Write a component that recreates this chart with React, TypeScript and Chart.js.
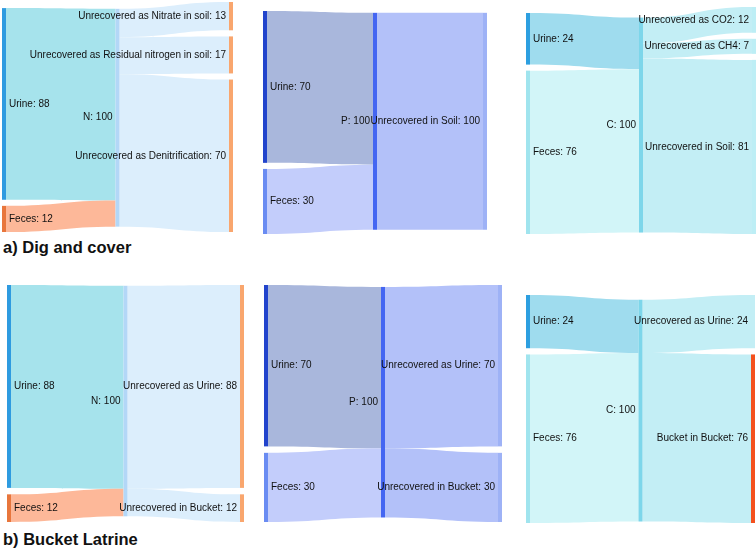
import React, { useEffect, useRef } from "react";
import { Chart, registerables } from "chart.js";

Chart.register(...registerables);

// ---------- DATA ----------
// a) Dig and cover — Nitrogen
const digNLabels = ["Urine", "Feces", "N", "Unrecovered as Nitrate in soil", "Unrecovered as Residual nitrogen in soil", "Unrecovered as Denitrification"];
const digNColumns = [0, 0, 1, 2, 2, 2];
const digNSources = [0, 1, 2, 2, 2];
const digNTargets = [2, 2, 3, 4, 5];
const digNValues = [88, 12, 13, 17, 70];

// a) Dig and cover — Phosphorus
const digPLabels = ["Urine", "Feces", "P", "Unrecovered in Soil"];
const digPColumns = [0, 0, 1, 2];
const digPSources = [0, 1, 2];
const digPTargets = [2, 2, 3];
const digPValues = [70, 30, 100];

// a) Dig and cover — Carbon
const digCLabels = ["Urine", "Feces", "C", "Unrecovered as CO2", "Unrecovered as CH4", "Unrecovered in Soil"];
const digCColumns = [0, 0, 1, 2, 2, 2];
const digCSources = [0, 1, 2, 2, 2];
const digCTargets = [2, 2, 3, 4, 5];
const digCValues = [24, 76, 12, 7, 81];

// b) Bucket Latrine — Nitrogen
const bucketNLabels = ["Urine", "Feces", "N", "Unrecovered as Urine", "Unrecovered in Bucket"];
const bucketNColumns = [0, 0, 1, 2, 2];
const bucketNSources = [0, 1, 2, 2];
const bucketNTargets = [2, 2, 3, 4];
const bucketNValues = [88, 12, 88, 12];

// b) Bucket Latrine — Phosphorus
const bucketPLabels = ["Urine", "Feces", "P", "Unrecovered as Urine", "Unrecovered in Bucket"];
const bucketPColumns = [0, 0, 1, 2, 2];
const bucketPSources = [0, 1, 2, 2];
const bucketPTargets = [2, 2, 3, 4];
const bucketPValues = [70, 30, 70, 30];

// b) Bucket Latrine — Carbon
const bucketCLabels = ["Urine", "Feces", "C", "Unrecovered as Urine", "Bucket in Bucket"];
const bucketCColumns = [0, 0, 1, 2, 2];
const bucketCSources = [0, 1, 2, 2];
const bucketCTargets = [2, 2, 3, 4];
const bucketCValues = [24, 76, 24, 76];

const sectionTitles = ["a) Dig and cover", "b) Bucket Latrine"];

// ---------- STYLES ----------
const N_NODE = ["#2e9be0", "#e8763c", "#b3d7f7", "#f9a66e", "#f9a66e", "#f9a66e"];
const N_LINK = ["#a6e3ec", "#fdb899", "#dceefc", "#dceefc", "#dceefc"];
const P_NODE = ["#2244cc", "#6a8cf2", "#4466f2", "#9eb2f6", "#9eb2f6"];
const P_LINK = ["#a9b7dc", "#c3cdfb", "#b3c1f9", "#b3c1f9"];
const C_NODE_DIG = ["#2d9fe0", "#a0e4ee", "#7dd6ea", "#bdeef5", "#bdeef5", "#bdeef5"];
const C_NODE_BUCKET = ["#2d9fe0", "#a0e4ee", "#7dd6ea", "#c3eef5", "#f4511e"];
const C_LINK = ["#9fdcee", "#d2f5f8", "#c3eef5", "#c3eef5", "#c3eef5"];

const NODE_WIDTH = 4;
const NODE_GAP = 2.8; // in value units
const LABEL_PAD = 3;
const FONT = "10px 'Liberation Sans', Arial, Helvetica, sans-serif";

type PanelDef = {
  labels: string[];
  columns: number[];
  sources: number[];
  targets: number[];
  values: number[];
  nodeColors: string[];
  linkColors: string[];
  rect: { left: number; top: number; width: number; height: number };
};

const panels: PanelDef[] = [
  { labels: digNLabels, columns: digNColumns, sources: digNSources, targets: digNTargets, values: digNValues, nodeColors: N_NODE, linkColors: N_LINK, rect: { left: 2, top: 2, width: 231, height: 230 } },
  { labels: digPLabels, columns: digPColumns, sources: digPSources, targets: digPTargets, values: digPValues, nodeColors: P_NODE, linkColors: P_LINK, rect: { left: 263, top: 11, width: 224, height: 223 } },
  { labels: digCLabels, columns: digCColumns, sources: digCSources, targets: digCTargets, values: digCValues, nodeColors: C_NODE_DIG, linkColors: C_LINK, rect: { left: 526, top: 7, width: 230, height: 227 } },
  { labels: bucketNLabels, columns: bucketNColumns, sources: bucketNSources, targets: bucketNTargets, values: bucketNValues, nodeColors: N_NODE, linkColors: N_LINK, rect: { left: 7, top: 285, width: 237, height: 237 } },
  { labels: bucketPLabels, columns: bucketPColumns, sources: bucketPSources, targets: bucketPTargets, values: bucketPValues, nodeColors: P_NODE, linkColors: P_LINK, rect: { left: 264, top: 285, width: 238, height: 237 } },
  { labels: bucketCLabels, columns: bucketCColumns, sources: bucketCSources, targets: bucketCTargets, values: bucketCValues, nodeColors: C_NODE_BUCKET, linkColors: C_LINK, rect: { left: 526, top: 295, width: 229, height: 228 } },
];

type Layout = {
  ymax: number;
  ncol: number;
  nodeVal: number[];
  y0: number[];
  y1: number[];
  links: { s: number; t: number; sy0: number; sy1: number; ty0: number; ty1: number }[];
};

function layoutSankey(p: PanelDef): Layout {
  const n = p.labels.length;
  const inSum = new Array(n).fill(0);
  const outSum = new Array(n).fill(0);
  p.values.forEach((v, i) => {
    outSum[p.sources[i]] += v;
    inSum[p.targets[i]] += v;
  });
  const nodeVal = p.labels.map((_, i) => Math.max(inSum[i], outSum[i]));
  const ncol = Math.max(...p.columns) + 1;
  const colNodes: number[][] = [];
  for (let c = 0; c < ncol; c++) colNodes.push(p.labels.map((_, i) => i).filter((i) => p.columns[i] === c));
  const colTotal = colNodes.map((list) => list.reduce((a, i) => a + nodeVal[i], 0) + (list.length - 1) * NODE_GAP);
  const ymax = Math.max(...colTotal);
  const y0 = new Array(n).fill(0);
  const y1 = new Array(n).fill(0);
  colNodes.forEach((list, c) => {
    // stack column from 0
    let start = 0;
    list.forEach((i) => {
      y0[i] = start;
      y1[i] = start + nodeVal[i];
      start += nodeVal[i] + NODE_GAP;
    });
    let shift: number;
    if (c === 0) {
      shift = ymax - colTotal[c];
    } else {
      // move the column so its nodes sit at the weighted centre of their sources
      let wsum = 0;
      let dsum = 0;
      p.values.forEach((v, k) => {
        const t = p.targets[k];
        if (p.columns[t] !== c) return;
        const s = p.sources[k];
        const sc = (y0[s] + y1[s]) / 2;
        const tc = (y0[t] + y1[t]) / 2;
        wsum += v;
        dsum += v * (sc - tc);
      });
      shift = wsum > 0 ? dsum / wsum : (ymax - colTotal[c]) / 2;
      shift = Math.max(0, Math.min(ymax - colTotal[c], shift));
    }
    list.forEach((i) => {
      y0[i] += shift;
      y1[i] += shift;
    });
  });
  const outCursor = y0.slice();
  const inCursor = y0.slice();
  const links = p.values.map((v, i) => {
    const s = p.sources[i];
    const t = p.targets[i];
    const l = { s, t, sy0: outCursor[s], sy1: outCursor[s] + v, ty0: inCursor[t], ty1: inCursor[t] + v };
    outCursor[s] += v;
    inCursor[t] += v;
    return l;
  });
  return { ymax, ncol, nodeVal, y0, y1, links };
}

const sankeyPlugin = {
  id: "sankeyDraw",
  afterDatasetsDraw(chart: any, _args: any, opts: any) {
    const p: PanelDef = opts.panel;
    const L: Layout = opts.layout;
    if (!p || !L) return;
    const xs = chart.scales.x;
    const ys = chart.scales.y;
    const ctx: CanvasRenderingContext2D = chart.ctx;
    const nodeX = (i: number) => xs.getPixelForValue(p.columns[i] / (L.ncol - 1));
    ctx.save();
    // links
    L.links.forEach((lk, i) => {
      const sx = nodeX(lk.s) + NODE_WIDTH;
      const tx = nodeX(lk.t);
      const mx = (sx + tx) / 2;
      const a0 = ys.getPixelForValue(lk.sy0);
      const a1 = ys.getPixelForValue(lk.sy1);
      const b0 = ys.getPixelForValue(lk.ty0);
      const b1 = ys.getPixelForValue(lk.ty1);
      ctx.beginPath();
      ctx.moveTo(sx, a0);
      ctx.bezierCurveTo(mx, a0, mx, b0, tx, b0);
      ctx.lineTo(tx, b1);
      ctx.bezierCurveTo(mx, b1, mx, a1, sx, a1);
      ctx.closePath();
      ctx.fillStyle = p.linkColors[i];
      ctx.fill();
    });
    // nodes
    p.labels.forEach((_, i) => {
      const x = nodeX(i);
      const top = ys.getPixelForValue(L.y0[i]);
      const bot = ys.getPixelForValue(L.y1[i]);
      ctx.fillStyle = p.nodeColors[i];
      ctx.fillRect(x, top, NODE_WIDTH, bot - top);
    });
    // labels
    ctx.font = FONT;
    ctx.fillStyle = "#111";
    ctx.textBaseline = "middle";
    p.labels.forEach((lab, i) => {
      const x = nodeX(i);
      const cy = (ys.getPixelForValue(L.y0[i]) + ys.getPixelForValue(L.y1[i])) / 2;
      const text = `${lab}: ${L.nodeVal[i]}`;
      if (p.columns[i] / (L.ncol - 1) < 0.5) {
        ctx.textAlign = "left";
        ctx.fillText(text, x + NODE_WIDTH + LABEL_PAD, cy);
      } else {
        ctx.textAlign = "right";
        ctx.fillText(text, x - LABEL_PAD, cy);
      }
    });
    ctx.restore();
  },
};

function SankeyPanel({ panel }: { panel: PanelDef }) {
  const ref = useRef<HTMLCanvasElement | null>(null);
  useEffect(() => {
    if (!ref.current) return;
    const layout = layoutSankey(panel);
    const chart = new Chart(ref.current, {
      type: "scatter",
      data: { datasets: [] },
      options: {
        animation: false,
        responsive: true,
        maintainAspectRatio: false,
        events: [],
        layout: { padding: { left: 0, top: 0, bottom: 0, right: NODE_WIDTH } },
        scales: {
          x: { type: "linear", min: 0, max: 1, display: false },
          y: { type: "linear", min: 0, max: layout.ymax, reverse: true, display: false },
        },
        plugins: {
          legend: { display: false },
          tooltip: { enabled: false },
          sankeyDraw: { panel, layout },
        } as any,
      },
      plugins: [sankeyPlugin as any],
    });
    return () => chart.destroy();
  }, [panel]);
  const r = panel.rect;
  return (
    <div style={{ position: "absolute", left: r.left, top: r.top, width: r.width, height: r.height }}>
      <canvas ref={ref} />
    </div>
  );
}

export default function App() {
  const titleStyle: React.CSSProperties = {
    position: "absolute",
    left: 3,
    font: "bold 16.5px 'Liberation Sans', Arial, Helvetica, sans-serif",
    lineHeight: "20px",
    color: "#111",
    whiteSpace: "nowrap",
  };
  return (
    <div style={{ position: "fixed", left: 0, top: 0, width: 756, height: 549, background: "#fff", overflow: "hidden" }}>
      {panels.map((p, i) => (
        <SankeyPanel key={i} panel={p} />
      ))}
      <div style={{ ...titleStyle, top: 237 }}>{sectionTitles[0]}</div>
      <div style={{ ...titleStyle, top: 529 }}>{sectionTitles[1]}</div>
    </div>
  );
}
